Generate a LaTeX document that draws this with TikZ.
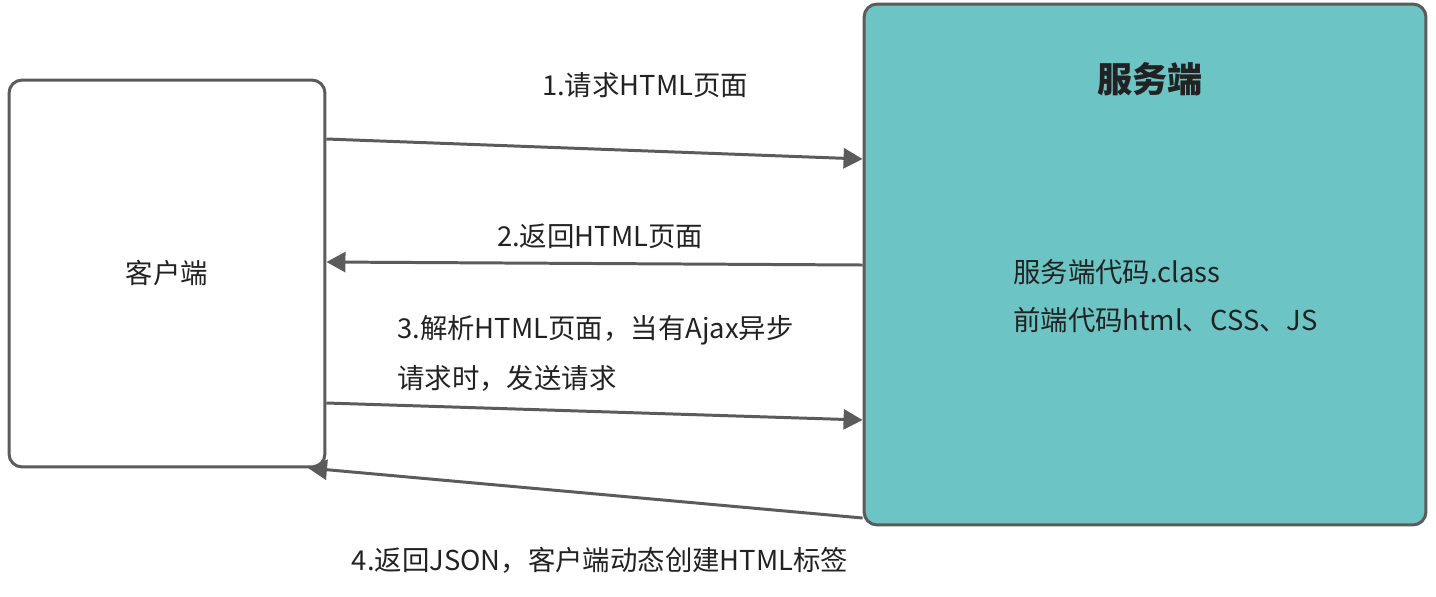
\documentclass[tikz,border=0pt]{standalone}
\usepackage{fontspec}
\setmainfont{Noto Sans CJK SC}
\usetikzlibrary{arrows.meta,positioning}
\definecolor{edgegray}{HTML}{5B5B5B}
\definecolor{srvteal}{HTML}{6CC4C4}
\definecolor{txtdark}{HTML}{222222}

\begin{document}
\begin{tikzpicture}[
    x=0.02cm, y=-0.02cm,
    every node/.style={font=\fontsize{15.6pt}{18pt}\selectfont, text=txtdark},
    box/.style={rectangle, draw=edgegray, line width=1.7pt, rounded corners=2.6mm, inner sep=0pt},
    ttl/.style={font=\fontsize{20pt}{24pt}\selectfont\bfseries},
    e/.style={draw=edgegray, line width=1.7pt, -{Triangle[length=3.8mm, width=4mm]}},
  ]
  \useasboundingbox (0,0) rectangle (1436,596);
  % boxes
  \node[box, minimum width=6.32cm, minimum height=7.74cm] (client) at (167,273.5) {客户端};
  \node[box, fill=srvteal, minimum width=11.24cm, minimum height=10.42cm] (server) at (1145,264.5) {};
  \node[ttl] (srvtitle) at (1150,79) {服务端};
  \node[anchor=west] (srvcode) at (1007,272) {服务端代码.class};
  \node[anchor=west] (fecode) at (1007,320) {前端代码html、CSS、JS};
  % heights of the connector ends
  \coordinate (a1s) at (0,139);
  \coordinate (a1t) at (0,159);
  \coordinate (a2s) at (0,265);
  \coordinate (a2t) at (0,262);
  \coordinate (a3s) at (0,403);
  \coordinate (a3t) at (0,420);
  \coordinate (a4s) at (0,518);
  \coordinate (a4t) at (308,468);
  \draw[e] (client.east |- a1s) -- (server.west |- a1t);
  \draw[e] (server.west |- a2s) -- (client.east |- a2t);
  \draw[e] (client.east |- a3s) -- (server.west |- a3t);
  \draw[e] (server.west |- a4s) -- (a4t);
  % labels
  \node (lbl1) at (645,85) {1.请求HTML页面};
  \node (lbl2) at (600,236) {2.返回HTML页面};
  \node[anchor=west] (lbl3a) at (391,330) {3.解析HTML页面，当有Ajax异步};
  \node[anchor=west] (lbl3b) at (391,378) {请求时，发送请求};
  \node (lbl4) at (600,560) {4.返回JSON，客户端动态创建HTML标签};
\end{tikzpicture}
\end{document}
